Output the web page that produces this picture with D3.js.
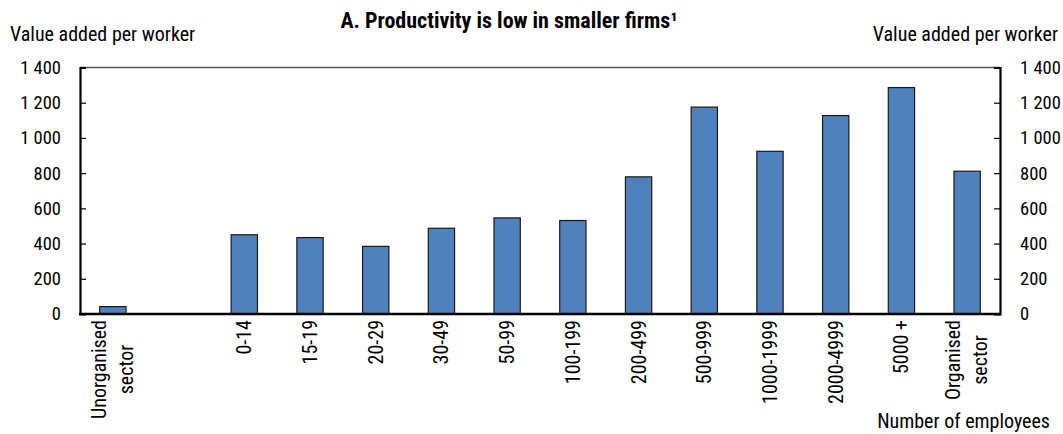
<!DOCTYPE html>
<html><head><meta charset="utf-8">
<script src="https://cdn.jsdelivr.net/npm/d3@7"></script>
<style>
body{margin:0;background:#fff;}
text{font-family:"Liberation Sans Narrow","Arial Narrow","Roboto Condensed",sans-serif;fill:#000;}
</style></head><body>
<svg id="c" width="1063" height="434"></svg>
<script>
const categories = [["Unorganised","sector"],[""],["0-14"],["15-19"],["20-29"],["30-49"],["50-99"],["100-199"],["200-499"],["500-999"],["1000-1999"],["2000-4999"],["5000 +"],["Organised","sector"]];
const values = [42, null, 450, 434, 384, 487, 546, 531, 779, 1175, 924, 1127, 1286, 811];
const yTicks = [0,200,400,600,800,1000,1200,1400];
const title = "A. Productivity is low in smaller firms\u00b9";
const yTitle = "Value added per worker";
const xTitle = "Number of employees";

const svg = d3.select("#c");
const L=80,R=1000,T=67.5,B=314;
const keys = categories.map((c,i)=>"k"+i);
const x = d3.scaleBand().domain(keys).range([L,R]).paddingInner(0.6).paddingOuter(0.3);
const y = d3.scaleLinear().domain([0,1400]).range([B,T]);
const fmt = v => d3.format(",")(v).replace(/,/g," ");

// bars
svg.append("g").selectAll("rect").data(values.map((v,i)=>({v,k:keys[i]})).filter(d=>d.v!=null))
  .join("rect")
  .attr("x",d=>x(d.k)).attr("width",x.bandwidth())
  .attr("y",d=>y(d.v)).attr("height",d=>y(0)-y(d.v))
  .attr("fill","#4f81bd").attr("stroke","#1a1a1a").attr("stroke-width",1.2);

// top border
svg.append("line").attr("x1",L).attr("x2",R).attr("y1",T).attr("y2",T).attr("stroke","#555").attr("stroke-width",1.5);

// left axis
const la = svg.append("g").attr("transform",`translate(${L},0)`)
  .call(d3.axisLeft(y).tickValues(yTicks).tickSize(-6).tickPadding(19).tickFormat(fmt));
la.select(".domain").attr("stroke","#000").attr("stroke-width",2.2);
la.selectAll(".tick line").attr("stroke","#000").attr("stroke-width",1.2);
la.selectAll("text").style("font-size","18.5px").attr("fill","#000");

// right axis
const ra = svg.append("g").attr("transform",`translate(${R},0)`)
  .call(d3.axisRight(y).tickValues(yTicks).tickSize(-6).tickPadding(20).tickFormat(fmt));
ra.select(".domain").attr("stroke","#000").attr("stroke-width",2.2);
ra.selectAll(".tick line").attr("stroke","#000").attr("stroke-width",1.2);
ra.selectAll("text").style("font-size","18.5px").attr("fill","#000");

// bottom axis line
svg.append("line").attr("x1",L-1).attr("x2",R+1).attr("y1",B).attr("y2",B).attr("stroke","#000").attr("stroke-width",2.5);

// x labels
const xl = svg.append("g");
categories.forEach((lines,i)=>{
  const cx = x(keys[i]) + x.bandwidth()/2;
  const g = xl.append("g").attr("transform",`translate(${cx},320) rotate(-90)`);
  if(lines.length===1){
    g.append("text").attr("text-anchor","end").attr("y",7).style("font-size","20px").text(lines[0]);
  } else {
    const t1 = g.append("text").attr("text-anchor","middle").attr("y",-7).style("font-size","20px").text(lines[0]);
    const t2 = g.append("text").attr("text-anchor","middle").attr("y",20).style("font-size","20px").text(lines[1]);
    const w = Math.max(t1.node().getComputedTextLength(), t2.node().getComputedTextLength());
    t1.attr("x",-w/2); t2.attr("x",-w/2);
  }
});

// titles
svg.append("text").attr("x",509).attr("y",28).attr("text-anchor","middle").style("font-size","22px").style("font-weight","bold").text(title);
svg.append("text").attr("x",10).attr("y",41).style("font-size","20px").text(yTitle);
svg.append("text").attr("x",1058).attr("y",41).attr("text-anchor","end").style("font-size","20px").text(yTitle);
svg.append("text").attr("x",1050).attr("y",428).attr("text-anchor","end").style("font-size","20px").text(xTitle);
</script></body></html>
